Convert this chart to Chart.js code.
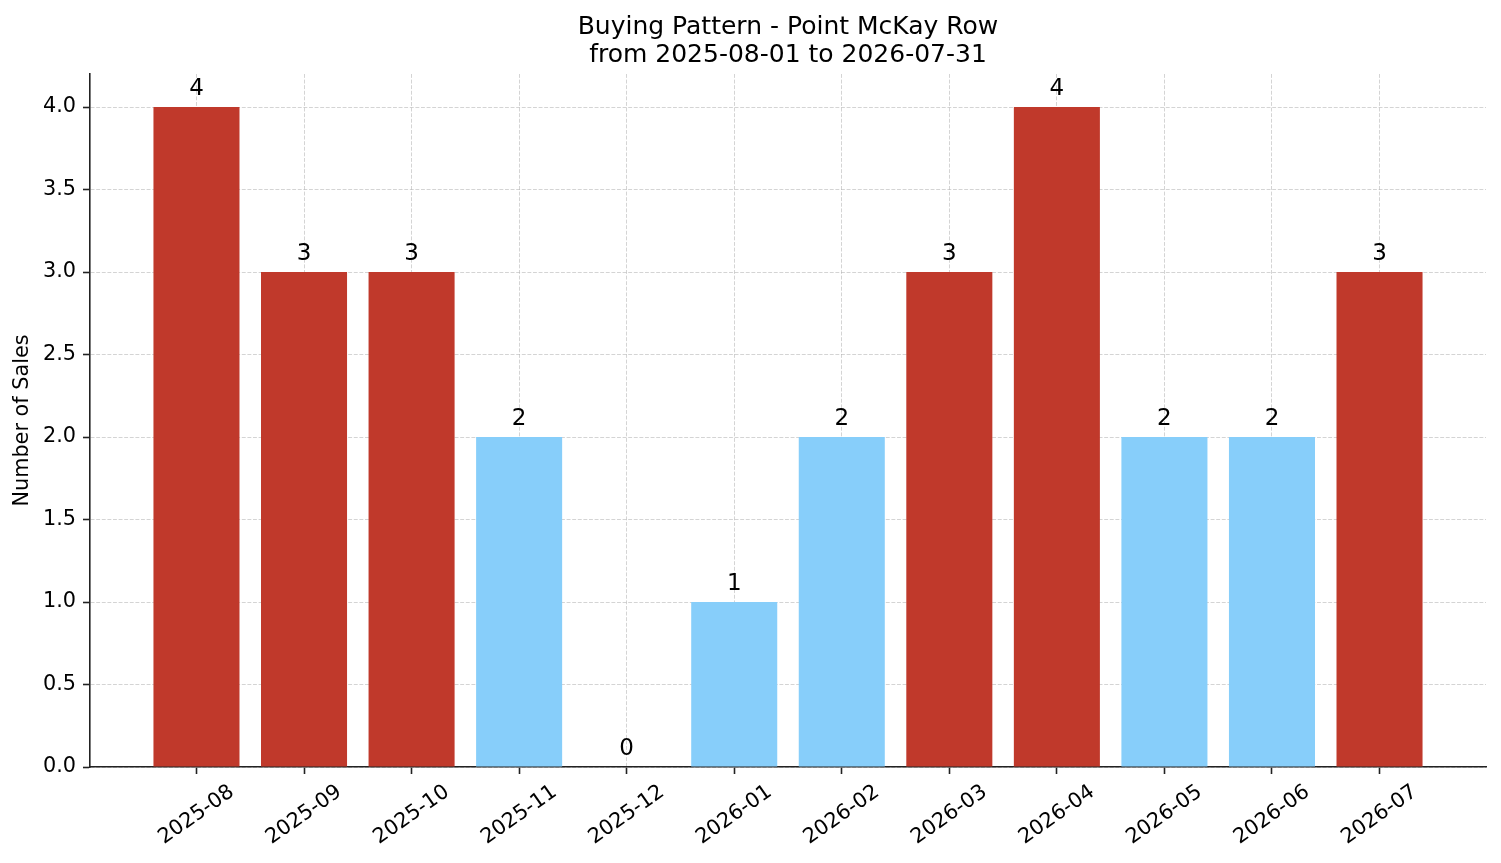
<!DOCTYPE html>
<html>
<head>
<meta charset="utf-8">
<title>Buying Pattern - Point McKay Row</title>
<script src="https://cdn.jsdelivr.net/npm/chart.js@4.4.1/dist/chart.umd.min.js"></script>
<style>
  html, body { margin: 0; padding: 0; background: #fff; }
  #wrap { width: 1501px; height: 863px; }
</style>
</head>
<body>
<div id="wrap"><canvas id="salesChart"></canvas></div>
<script>
// Monthly sales counts
const months = ['2025-08', '2025-09', '2025-10', '2025-11', '2025-12', '2026-01',
                '2026-02', '2026-03', '2026-04', '2026-05', '2026-06', '2026-07'];
const sales = [4, 3, 3, 2, 0, 1, 2, 3, 4, 2, 2, 3];
const yTicks = [0, 0.5, 1, 1.5, 2, 2.5, 3, 3.5, 4];
const titleLines = ['Buying Pattern - Point McKay Row', 'from 2025-08-01 to 2026-07-31'];

const HIGH = '#C0392B';
const LOW = '#87CEFA';
const AXIS = '#222222';
const GRID = 'rgba(176, 176, 176, 0.55)';
const FONT = "'DejaVu Sans', sans-serif";

// busy months (3+ sales) are red, the rest light blue
const barColors = sales.map(v => v >= 3 ? HIGH : LOW);

// title, value labels above bars and rotated month labels
const labelsPlugin = {
    id: 'labels',
    afterDraw(chart) {
        const { ctx, chartArea, scales } = chart;
        const cx = (chartArea.left + chartArea.right) / 2;
        ctx.save();
        ctx.fillStyle = '#000';
        ctx.textAlign = 'center';
        ctx.textBaseline = 'alphabetic';

        ctx.font = '25px ' + FONT;
        ctx.fillText(titleLines[0], cx, 34);
        ctx.fillText(titleLines[1], cx, 62);

        ctx.font = '23px ' + FONT;
        chart.getDatasetMeta(0).data.forEach((bar, i) => {
            ctx.fillText(String(sales[i]), bar.x, bar.y - 12.5);
        });

        ctx.font = '20.8px ' + FONT;
        ctx.textBaseline = 'middle';
        months.forEach((m, i) => {
            const x = scales.x.getPixelForValue(i);
            ctx.save();
            ctx.translate(x, chartArea.bottom + 48);
            ctx.rotate(-35 * Math.PI / 180);
            ctx.fillText(m, 0, 0);
            ctx.restore();
        });
        ctx.restore();
    }
};

const gridOpts = {
    color: GRID,
    lineWidth: 1,
    tickLength: 7,
    tickColor: AXIS,
    tickWidth: 1.6,
    tickBorderDash: [],
    offset: false
};
const borderOpts = { color: AXIS, width: 1.6, dash: [3.9, 1.7] };

new Chart(document.getElementById('salesChart'), {
    type: 'bar',
    data: {
        datasets: [{
            label: 'Number of Sales',
            data: sales.map((v, i) => ({ x: i, y: v })),
            backgroundColor: barColors,
            borderWidth: 0,
            barPercentage: 0.8,
            categoryPercentage: 1.0
        }]
    },
    options: {
        responsive: true,
        maintainAspectRatio: false,
        animation: false,
        layout: { padding: { top: 74, right: 15, left: 0, bottom: 0 } },
        plugins: {
            legend: { display: false },
            tooltip: { enabled: false },
            title: { display: false }
        },
        scales: {
            x: {
                type: 'linear',
                min: -0.99,
                max: 11.99,
                offset: false,
                z: 1,
                afterBuildTicks: s => { s.ticks = months.map((_, i) => ({ value: i })); },
                afterFit: s => { s.height = 96; },
                ticks: { display: false },
                grid: gridOpts,
                border: borderOpts
            },
            y: {
                min: 0,
                max: 4.2,
                z: 1,
                afterBuildTicks: s => { s.ticks = yTicks.map(v => ({ value: v })); },
                afterFit: s => { s.width = 90; },
                ticks: {
                    color: '#000',
                    padding: 7,
                    font: { family: FONT, size: 20.8 },
                    callback: v => Number(v).toFixed(1)
                },
                grid: gridOpts,
                border: borderOpts,
                title: {
                    display: true,
                    text: 'Number of Sales',
                    color: '#000',
                    font: { family: FONT, size: 20.8 },
                    padding: { top: 10, bottom: 0 }
                }
            }
        }
    },
    plugins: [labelsPlugin]
});
</script>
</body>
</html>
